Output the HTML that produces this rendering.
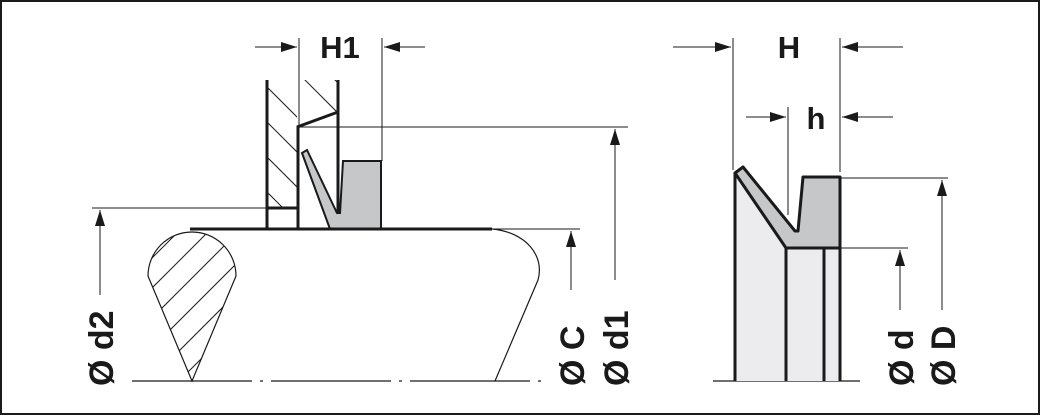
<!DOCTYPE html>
<html><head><meta charset="utf-8"><style>
html,body{margin:0;padding:0;background:#fff}
svg{display:block}
text{font-family:"Liberation Sans",Arial,sans-serif;font-weight:bold;fill:#1a1a1a}
</style></head><body>
<svg width="1041" height="416" viewBox="0 0 1041 416" xmlns="http://www.w3.org/2000/svg">
<defs>
<clipPath id="wall"><rect x="268" y="80" width="29" height="127"/></clipPath>
<clipPath id="top"><polygon points="299,80 337,80 337,112 299,126"/></clipPath>
<clipPath id="drop"><path d="M148,276 A44,44 0 1 1 236,276 L192,381 Z"/></clipPath>
<marker id="ar" markerWidth="16" markerHeight="10" refX="16" refY="5" orient="auto" markerUnits="userSpaceOnUse"><path d="M0,0 L16,5 L0,10 Z" fill="#1a1a1a"/></marker>
</defs>
<rect x="1" y="1" width="1038" height="413" fill="none" stroke="#1a1a1a" stroke-width="2"/>
<g stroke="#1a1a1a" fill="none">
<g clip-path="url(#wall)" stroke-width="1">
<line x1="240" y1="60" x2="340" y2="160"/><line x1="240" y1="95" x2="340" y2="195"/><line x1="240" y1="130" x2="340" y2="230"/><line x1="240" y1="165" x2="340" y2="265"/><line x1="240" y1="200" x2="340" y2="300"/>
</g>
<g clip-path="url(#top)" stroke-width="1">
<line x1="280" y1="55" x2="340" y2="115"/><line x1="310" y1="55" x2="370" y2="115"/>
</g>
<g clip-path="url(#drop)" stroke-width="1">
<line x1="120" y1="290" x2="220" y2="190"/><line x1="120" y1="320" x2="250" y2="190"/><line x1="130" y1="340" x2="260" y2="210"/><line x1="140" y1="360" x2="260" y2="240"/><line x1="150" y1="380" x2="260" y2="270"/><line x1="160" y1="400" x2="260" y2="300"/><line x1="170" y1="420" x2="260" y2="330"/>
</g>
<path d="M148,276 A44,44 0 1 1 236,276 L192,381 Z" stroke-width="1.2"/>
<path d="M492,229 C525,232 545,255 538,280 L495,381" stroke-width="1.2"/>
<line x1="132" y1="381" x2="545" y2="381" stroke-width="1.2" stroke-dasharray="120,8,3,8"/>
<g stroke-width="1">
<line x1="92" y1="208" x2="267" y2="208"/>
<line x1="100" y1="295" x2="100" y2="210" marker-end="url(#ar)"/>
<line x1="298" y1="127" x2="628" y2="127"/>
<line x1="615" y1="280" x2="615" y2="129" marker-end="url(#ar)"/>
<line x1="492" y1="229" x2="580" y2="229"/>
<line x1="571" y1="290" x2="571" y2="231" marker-end="url(#ar)"/>
<line x1="299" y1="38" x2="299" y2="130"/>
<line x1="382" y1="38" x2="382" y2="161"/>
<line x1="255" y1="47" x2="297" y2="47" marker-end="url(#ar)"/>
<line x1="425" y1="47" x2="384" y2="47" marker-end="url(#ar)"/>
</g>
<polygon points="302,153 307,150 337,213 340,213 343,161 381,161 381,229 330,229" fill="#c6c7c9" stroke-width="2"/>
<g stroke-width="3">
<line x1="267" y1="80" x2="267" y2="229"/>
<line x1="298" y1="229" x2="298" y2="126"/>
<polyline points="297,127 338,112"/>
<line x1="338" y1="80" x2="338" y2="214"/>
<line x1="267" y1="208" x2="298" y2="208"/>
<line x1="190" y1="229" x2="492" y2="229"/>
</g>
<g stroke-width="1">
<line x1="733" y1="38" x2="733" y2="170"/>
<line x1="840" y1="38" x2="840" y2="172"/>
<line x1="673" y1="47" x2="731" y2="47" marker-end="url(#ar)"/>
<line x1="903" y1="47" x2="842" y2="47" marker-end="url(#ar)"/>
<line x1="788" y1="107" x2="788" y2="215"/>
<line x1="746" y1="117" x2="786" y2="117" marker-end="url(#ar)"/>
<line x1="893" y1="117" x2="842" y2="117" marker-end="url(#ar)"/>
<line x1="840" y1="178" x2="948" y2="178"/>
<line x1="942" y1="310" x2="942" y2="180" marker-end="url(#ar)"/>
<line x1="840" y1="248" x2="908" y2="248"/>
<line x1="900" y1="310" x2="900" y2="250" marker-end="url(#ar)"/>
<line x1="713" y1="381" x2="860" y2="381" stroke-width="1.2"/>
</g>
<polygon points="735,175 786,248 840,248 840,381 735,381" fill="#ececee" stroke="none"/>
<polygon points="735,173 743,167 795,231 798,231 803,177 840,177 840,248 786,248" fill="#c6c7c9" stroke-width="3" stroke-linejoin="round"/>
<g stroke-width="3">
<line x1="735" y1="173" x2="735" y2="381"/>
<line x1="786" y1="248" x2="786" y2="381"/>
<line x1="824" y1="248" x2="824" y2="381"/>
<line x1="840" y1="248" x2="840" y2="381"/>
</g>
</g>
<text x="340" y="58" font-size="31" text-anchor="middle">H1</text>
<text x="789" y="58" font-size="31" text-anchor="middle">H</text>
<text x="816" y="129" font-size="31" text-anchor="middle">h</text>
<g font-size="34">
<text transform="translate(113,386) rotate(-90)">Ø d2</text>
<text transform="translate(584,386) rotate(-90)">Ø C</text>
<text transform="translate(628,386) rotate(-90)">Ø d1</text>
<text transform="translate(913,386) rotate(-90)">Ø d</text>
<text transform="translate(955,386) rotate(-90)">Ø D</text>
</g>
</svg>
</body></html>
